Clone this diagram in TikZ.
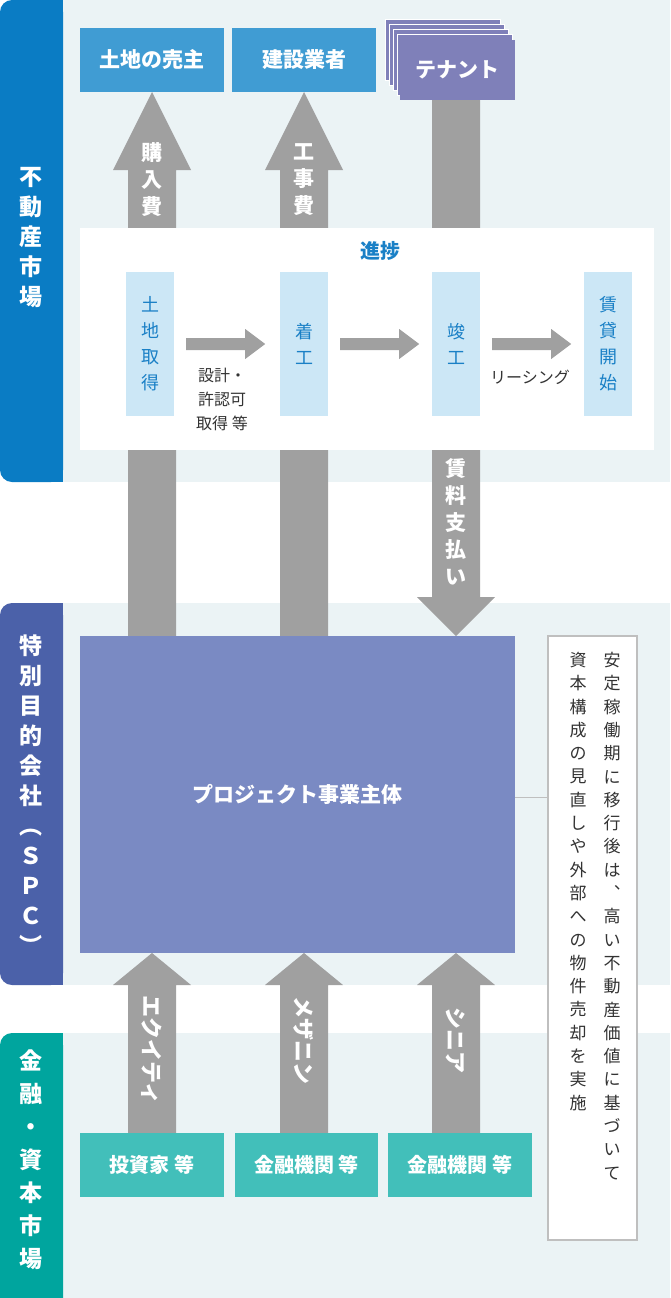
\documentclass[tikz,border=0pt]{standalone}
\usepackage{fontspec}
\setmainfont{Noto Sans CJK JP}
\definecolor{bandbg}{HTML}{EBF3F5}
\definecolor{barA}{HTML}{0A7CC4}
\definecolor{barB}{HTML}{4B61A9}
\definecolor{barC}{HTML}{00A59E}
\definecolor{boxblue}{HTML}{409CD3}
\definecolor{tenant}{HTML}{7F80B9}
\definecolor{spc}{HTML}{7A8AC3}
\definecolor{teal}{HTML}{42BFBA}
\definecolor{colblue}{HTML}{CCE7F6}
\definecolor{txtblue}{HTML}{1A80C6}
\definecolor{arr}{HTML}{A0A0A0}
\definecolor{dtxt}{HTML}{333333}
\begin{document}
\begin{tikzpicture}[x=1pt,y=-1pt,
  topbox/.style={fill=boxblue,text=white,font=\fontsize{21}{24}\selectfont\bfseries,minimum width=144pt,minimum height=64pt,inner sep=0pt},
  botbox/.style={fill=teal,text=white,font=\fontsize{20}{24}\selectfont\bfseries,minimum height=64pt,inner sep=0pt},
  colbox/.style={fill=colblue,text=txtblue,minimum width=48pt,minimum height=144pt,inner sep=0pt,align=center,font=\fontsize{18}{26}\selectfont},
  bartxt/.style={text=white,align=center,font=\fontsize{23}{30}\selectfont\bfseries,inner sep=0pt},
  arrtxt/.style={text=white,align=center,font=\fontsize{21}{27}\selectfont\bfseries,inner sep=0pt},
  small/.style={text=dtxt,align=center,font=\fontsize{16}{24}\selectfont,inner sep=0pt}]
\useasboundingbox (0,0) rectangle (670,1298);
% bands
\fill[bandbg] (40,0) rectangle (670,482);
\fill[bandbg] (40,603) rectangle (670,985);
\fill[bandbg] (40,1033) rectangle (670,1298);
\fill[barA,rounded corners=12pt] (0,0) rectangle (63,482);
\fill[barA] (40,0) rectangle (63,482);
\fill[barB,rounded corners=12pt] (0,603) rectangle (63,985);
\fill[barB] (40,603) rectangle (63,985);
\fill[barC,rounded corners=12pt] (0,1033) rectangle (63,1310);
\fill[barC] (40,1033) rectangle (63,1298);
\node[bartxt] (l1) at (31,238) {不\\動\\産\\市\\場};
\node[bartxt] (l2) at (31,795) {特\\別\\目\\的\\会\\社\\︵\\Ｓ\\Ｐ\\Ｃ\\︶};
\node[bartxt,font=\fontsize{23}{33}\selectfont\bfseries] (l3) at (31,1160) {金\\融\\・\\資\\本\\市\\場};
% big arrows
\fill[arr] (128,636) -- (128,170) -- (113,170) -- (152,92) -- (191,170) -- (176,170) -- (176,636) -- cycle;
\fill[arr] (280,636) -- (280,170) -- (265,170) -- (304,92) -- (343,170) -- (328,170) -- (328,636) -- cycle;
\fill[arr] (432,100) -- (432,597) -- (417,597) -- (456,636) -- (495,597) -- (480,597) -- (480,100) -- cycle;
\foreach \x in {152,304,456}{
  \fill[arr] (\x-24,1135) -- (\x-24,985) -- (\x-39,985) -- (\x,953) -- (\x+39,985) -- (\x+24,985) -- (\x+24,1135) -- cycle;}
% top boxes
\node[topbox] (seller) at (152,60) {土地の売主};
\node[topbox] (builder) at (304,60) {建設業者};
\foreach \d in {0,4,8,12}{
  \draw[fill=tenant,draw=white,line width=1pt] (385+\d,20+\d*1.25) rectangle ++(115,60);}
\node[fill=tenant,text=white,font=\fontsize{21}{24}\selectfont\bfseries,minimum width=115pt,minimum height=60pt,inner sep=0pt] (tenant) at (457.5,70) {テナント};
\node[arrtxt] (a1) at (152,180) {購\\入\\費};
\node[arrtxt] (a2) at (304,180) {工\\事\\費};
\node[arrtxt] (a3) at (456,522) {賃\\料\\支\\払\\い};
% progress box
\fill[white] (80,228) rectangle (654,450);
\node[text=txtblue,font=\fontsize{20}{24}\selectfont\bfseries] (prog) at (380,251) {進捗};
\node[colbox] (c1) at (150,344) {土\\地\\取\\得};
\node[colbox] (c2) at (304,344) {着\\工};
\node[colbox] (c3) at (456,344) {竣\\工};
\node[colbox] (c4) at (608,344) {賃\\貸\\開\\始};
\foreach \a/\b in {c1/c2,c2/c3,c3/c4}{
  \fill[arr] ([xshift=12pt]\a.east) ++(0,-6) -- ++(59,0) -- ++(0,-9) -- ++(20,15) -- ++(-20,15) -- ++(0,-9) -- ++(-59,0) -- cycle;}
\node[small] (t1) at (222,399) {設計・\\許認可\\取得 等};
\node[small] (t2) at (530,377) {リーシング};
% SPC
\node[fill=spc,text=white,font=\fontsize{21}{24}\selectfont\bfseries,minimum width=435pt,minimum height=317pt,inner sep=0pt] (spcbox) at (297.5,794.5) {プロジェクト事業主体};
\node[draw=black!25,line width=1.2pt,fill=white,minimum width=89pt,minimum height=604pt,inner sep=0pt] (note) at (592.5,938) {};
\draw[black!25,line width=1pt] (spcbox.east |- 0,797) -- (note.west |- 0,797);
\node[small,anchor=north,font=\fontsize{17}{23.3}\selectfont] (n1) at (612,652) {安\\定\\稼\\働\\期\\に\\移\\行\\後\\は\\︑\\高\\い\\不\\動\\産\\価\\値\\に\\基\\づ\\い\\て};
\node[small,anchor=north,font=\fontsize{17}{23.3}\selectfont] (n2) at (578,652) {資\\本\\構\\成\\の\\見\\直\\し\\や\\外\\部\\へ\\の\\物\\件\\売\\却\\を\\実\\施};
% bottom
\node[arrtxt,rotate=-90,font=\fontsize{22}{27}\selectfont\bfseries] (b1) at (152,1050) {エクイティ};
\node[arrtxt,rotate=-90,font=\fontsize{22}{27}\selectfont\bfseries] (b2) at (304,1040) {メザニン};
\node[arrtxt,rotate=-90,font=\fontsize{22}{27}\selectfont\bfseries] (b3) at (456,1040) {シニア};
\node[botbox,minimum width=144pt] (inv) at (152,1165) {投資家 等};
\node[botbox,minimum width=143pt] (fin1) at (306.5,1165) {金融機関 等};
\node[botbox,minimum width=144pt] (fin2) at (460,1165) {金融機関 等};
\end{tikzpicture}
\end{document}
